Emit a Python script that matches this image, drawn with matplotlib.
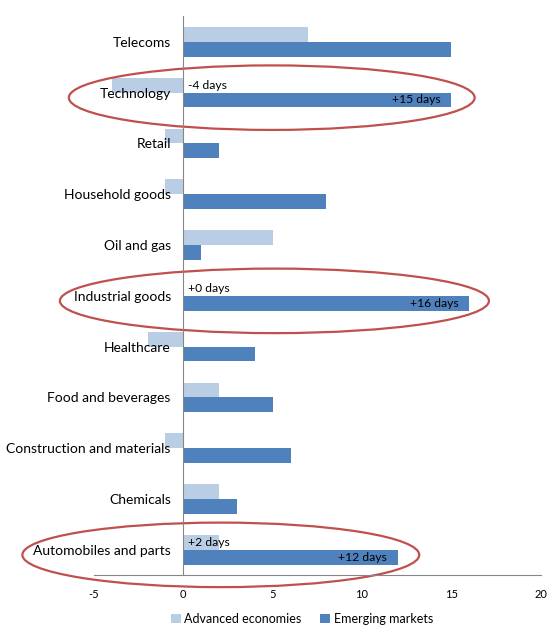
import numpy as np
import matplotlib
matplotlib.use('Agg')
import matplotlib.pyplot as plt
from matplotlib.patches import Ellipse

plt.rcParams['font.family'] = ['Lato', 'DejaVu Sans']
plt.rcParams['axes.unicode_minus'] = False

# 各產業天數變化
sectors = ['Telecoms', 'Technology', 'Retail', 'Household goods', 'Oil and gas',
           'Industrial goods', 'Healthcare', 'Food and beverages',
           'Construction and materials', 'Chemicals', 'Automobiles and parts']
advanced = [7, -4, -1, -1, 5, 0, -2, 2, -1, 2, 2]
emerging = [15, 15, 2, 8, 1, 16, 4, 5, 6, 3, 12]

# 圈起來標示的產業 (橢圓左右範圍)
highlight = {'Technology': (-6.4, 16.3),
             'Industrial goods': (-6.9, 17.1),
             'Automobiles and parts': (-9.0, 13.2)}

light = '#b9cde5'
dark = '#4f81bd'
red = '#c0504d'

fig = plt.figure(figsize=(5.49, 6.3), dpi=100)
ax = fig.add_axes([0.171, 0.087, 0.814, 0.887])

y = np.arange(len(sectors))
h = 0.29
ax.barh(y - h / 2, advanced, height=h, color=light, label='Advanced economies')
ax.barh(y + h / 2, emerging, height=h, color=dark, label='Emerging markets')

ax.set_xlim(-5, 20)
ax.set_ylim(len(sectors) - 0.5, -0.5)
ax.set_xticks([-5, 0, 5, 10, 15, 20])
ax.set_yticks(y)
ax.set_yticklabels(sectors, fontsize=9.6)
ax.tick_params(axis='y', length=0, pad=9)
ax.tick_params(axis='x', length=0, pad=10, labelsize=8)

ax.spines['left'].set_position(('data', 0))
ax.spines['left'].set_color('#868686')
ax.spines['bottom'].set_color('#868686')
ax.spines['top'].set_visible(False)
ax.spines['right'].set_visible(False)

# 標註天數與橢圓
for name, (x0, x1) in highlight.items():
    i = sectors.index(name)
    a, e = advanced[i], emerging[i]
    ax.text(0.25, i - h / 2, '%+d days' % a, ha='left', va='center', fontsize=8.7)
    ax.text(e - 0.6, i + h / 2, '%+d days' % e, ha='right', va='center', fontsize=8.7)
    ell = Ellipse(((x0 + x1) / 2, i + 0.1), width=x1 - x0, height=1.27,
                  fill=False, edgecolor=red, linewidth=1.6, clip_on=False)
    ax.add_patch(ell)

fig.legend(loc='lower center', bbox_to_anchor=(0.55, -0.01), ncol=2, frameon=False,
           fontsize=9, handlelength=0.8, handleheight=0.8, handletextpad=0.3,
           columnspacing=1.5)

fig.savefig('out.png', dpi=100)
